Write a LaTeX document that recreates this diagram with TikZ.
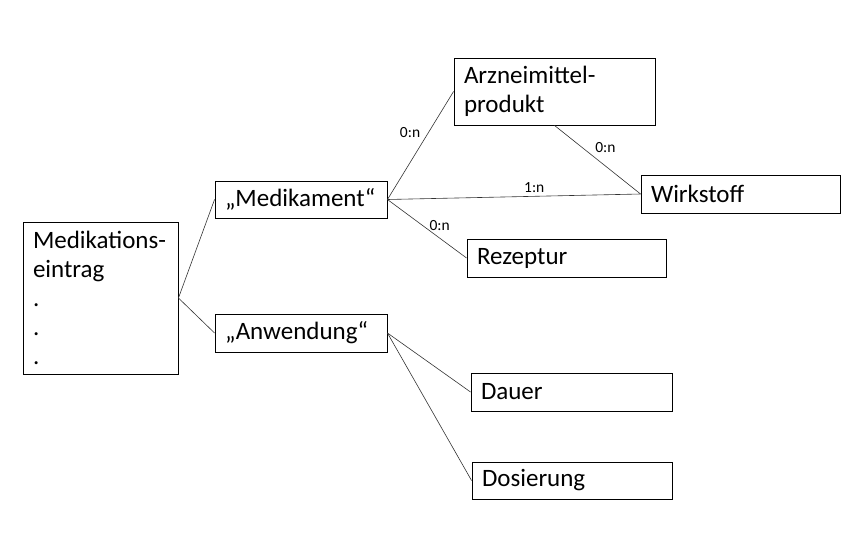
\documentclass[tikz,border=0pt]{standalone}
\usepackage{fontspec}
\setmainfont{Carlito}
\begin{document}
\begin{tikzpicture}[x=1pt,y=-1pt,
  box/.style={draw=black,line width=0.9pt,rectangle,inner xsep=10pt,inner ysep=0pt,
    align=left,font=\fontsize{25}{29}\selectfont},
  conn/.style={draw=black!80,line width=0.6pt},
  card/.style={font=\fontsize{15.5}{17}\selectfont,inner sep=0pt}]
\useasboundingbox (0,0) rectangle (858,541);
\node[box,minimum width=155pt,minimum height=152pt,text width=135pt] (me) at (100.5,298)
  {Medikations-\\eintrag\\.\\.\\.};
\node[box,minimum width=172pt,minimum height=37pt,text width=152pt] (med) at (301,199.5) {„Medikament“};
\node[box,minimum width=172pt,minimum height=38pt,text width=152pt] (anw) at (301,333) {„Anwendung“};
\node[box,minimum width=201pt,minimum height=67pt,text width=181pt] (arz) at (554.5,91.5) {Arzneimittel-\\produkt};
\node[box,minimum width=199pt,minimum height=38pt,text width=179pt] (wirk) at (740.5,194) {Wirkstoff};
\node[box,minimum width=199pt,minimum height=38pt,text width=179pt] (rez) at (566.5,258) {Rezeptur};
\node[box,minimum width=201pt,minimum height=38pt,text width=181pt] (dauer) at (571.5,392) {Dauer};
\node[box,minimum width=200pt,minimum height=37pt,text width=180pt] (dos) at (572,480.5) {Dosierung};
\draw[conn] (me.east) -- (med.west);
\draw[conn] (me.east) -- (anw.west);
\draw[conn] (med.east) -- node[card,pos=0.62,anchor=east,xshift=-8pt] {0:n} (arz.west);
\draw[conn] (med.east) -- node[card,pos=0.58,anchor=south,yshift=3pt] {1:n} (wirk.west);
\draw[conn] (med.east) -- node[card,pos=0.66,anchor=south,yshift=7pt] {0:n} (rez.west);
\draw[conn] (arz.south) -- node[card,pos=0.32,anchor=west,xshift=13pt] {0:n} (wirk.west);
\draw[conn] (anw.east) -- (dauer.west);
\draw[conn] (anw.east) -- (dos.west);
\end{tikzpicture}
\end{document}
